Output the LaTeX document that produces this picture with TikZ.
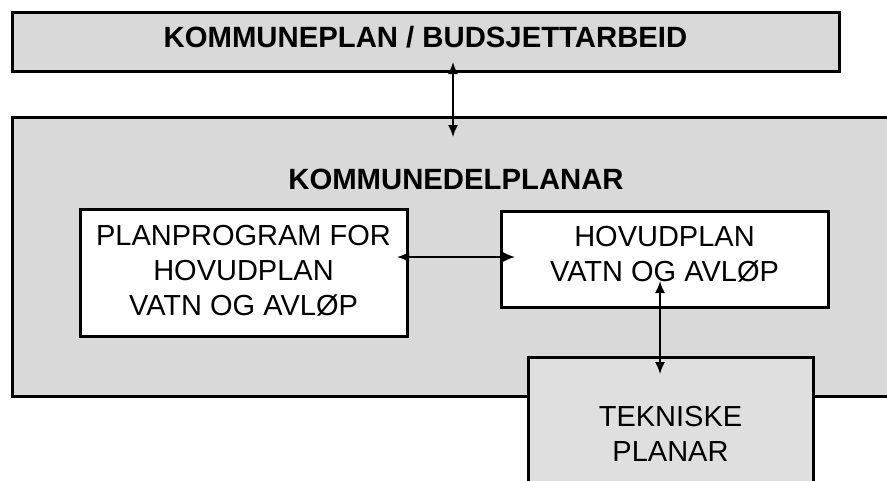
\documentclass[tikz,border=0pt]{standalone}
\usepackage{fontspec}
\setmainfont{Liberation Sans}
\usetikzlibrary{arrows.meta}
\definecolor{boxgray}{HTML}{D9D9D9}
\definecolor{lightgray}{HTML}{DFDFDF}
\begin{document}
\begin{tikzpicture}[x=1pt,y=-1pt,
  box/.style={draw=black,line width=3pt,rectangle,inner sep=0pt},
  txt/.style={align=center,inner sep=0pt,font=\fontsize{29}{35}\selectfont},
  btxt/.style={align=center,inner sep=0pt,font=\fontsize{29.3}{35}\selectfont\bfseries},
  conn/.style={line width=1.8pt,{Latex[length=12pt,width=10pt]}-{Latex[length=12pt,width=10pt]}}]
\useasboundingbox (0,0) rectangle (887,480);
\clip (0,0) rectangle (887,480);
\fill[white] (0,0) rectangle (887,480);
% boxes
\node[box,fill=boxgray,minimum width=827pt,minimum height=59pt] (top) at (425.5,41.5) {};
\node[box,fill=boxgray,minimum width=888pt,minimum height=279pt] (big) at (456,256.5) {};
\node[box,fill=white,minimum width=327pt,minimum height=127pt] (left) at (243.5,272.5) {};
\node[box,fill=white,minimum width=327pt,minimum height=96pt] (right) at (664.5,259) {};
\node[box,fill=lightgray,minimum width=285pt,minimum height=160pt] (bottom) at (670.5,437) {};
% texts
\node[btxt] (ttop) at (425.5,37) {KOMMUNEPLAN / BUDSJETTARBEID};
\node[btxt] (tbig) at (456,179) {KOMMUNEDELPLANAR};
\node[txt] (tleft) at (243.5,271) {PLANPROGRAM FOR\\HOVUDPLAN\\VATN OG AVLØP};
\node[txt] (tright) at (664.5,254) {HOVUDPLAN\\VATN OG AVLØP};
\node[txt] (tbottom) at (670.5,434) {TEKNISKE\\PLANAR};
% connector end points
\coordinate (a1) at (453,62);
\coordinate (a2) at (453,137);
\coordinate (b1) at (397,257);
\coordinate (b2) at (515,257);
\coordinate (c1) at (660,281);
\coordinate (c2) at (660,374);
\draw[conn] (a1) -- (a2);
\draw[conn] (b1) -- (b2);
\draw[conn] (c1) -- (c2);
\end{tikzpicture}
\end{document}
